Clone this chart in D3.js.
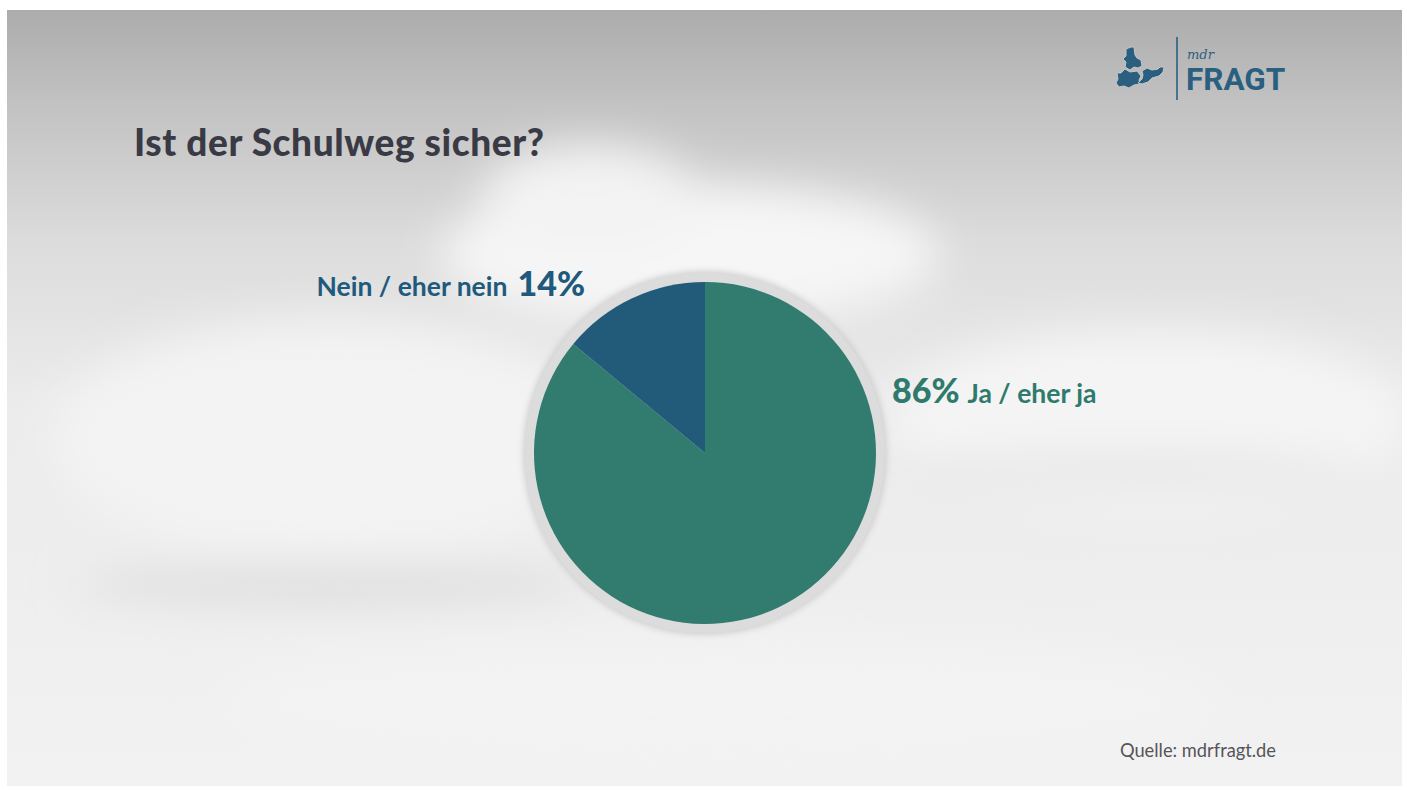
<!DOCTYPE html>
<html>
<head>
<meta charset="utf-8">
<script src="https://cdn.jsdelivr.net/npm/d3@7"></script>
<style>
  html, body { margin: 0; padding: 0; background: #fff; }
  svg { display: block; }
</style>
</head>
<body>
<svg class="canvas" width="1407" height="790"></svg>
<script>
'use strict';

// data
const categories = ['Ja / eher ja', 'Nein / eher nein'];
const values = [86, 14];
const sliceColors = ['#327b6f', '#225b7a'];
const labelColors = ['#2e7a6c', '#1f5a7c'];

const title = 'Ist der Schulweg sicher?';
const source = 'Quelle: mdrfragt.de';

const width = 1407,
  height = 790,
  frame = { left: 7, top: 10, right: 1402, bottom: 786 };

const svg = d3.select('.canvas');
const defs = svg.append('defs');

// background gradient, darker at the top
const bg = defs
  .append('linearGradient')
  .attr('id', 'bg')
  .attr('x1', 0)
  .attr('y1', 0)
  .attr('x2', 0)
  .attr('y2', 1);
[
  [0, '#acacac'],
  [0.12, '#c2c2c2'],
  [0.3, '#dcdcdc'],
  [0.5, '#ebebeb'],
  [1, '#f2f2f2'],
].forEach(([o, c]) => bg.append('stop').attr('offset', o).attr('stop-color', c));

defs
  .append('filter')
  .attr('id', 'blur')
  .attr('x', '-50%')
  .attr('y', '-50%')
  .attr('width', '200%')
  .attr('height', '200%')
  .append('feGaussianBlur')
  .attr('stdDeviation', 22);

defs
  .append('filter')
  .attr('id', 'soft')
  .attr('x', '-20%')
  .attr('y', '-20%')
  .attr('width', '140%')
  .attr('height', '140%')
  .append('feGaussianBlur')
  .attr('stdDeviation', 3);

const clip = defs.append('clipPath').attr('id', 'frame');
clip
  .append('rect')
  .attr('x', frame.left)
  .attr('y', frame.top)
  .attr('width', frame.right - frame.left)
  .attr('height', frame.bottom - frame.top);

const back = svg.append('g').attr('clip-path', 'url(#frame)');
back
  .append('rect')
  .attr('x', frame.left)
  .attr('y', frame.top)
  .attr('width', frame.right - frame.left)
  .attr('height', frame.bottom - frame.top)
  .attr('fill', 'url(#bg)');

// blurry clouds behind everything
const clouds = back.append('g').attr('filter', 'url(#blur)');
clouds.append('ellipse').attr('cx', 690).attr('cy', 255).attr('rx', 250).attr('ry', 70).attr('fill', '#f6f6f6');
clouds.append('ellipse').attr('cx', 590).attr('cy', 200).attr('rx', 110).attr('ry', 55).attr('fill', '#f3f3f3');
clouds.append('ellipse').attr('cx', 330).attr('cy', 440).attr('rx', 280).attr('ry', 120).attr('fill', '#f3f3f3');
clouds.append('ellipse').attr('cx', 1150).attr('cy', 420).attr('rx', 260).attr('ry', 90).attr('fill', '#f4f4f4');
clouds.append('ellipse').attr('cx', 330).attr('cy', 585).attr('rx', 260).attr('ry', 14).attr('fill', '#d8d8d8');
clouds.append('ellipse').attr('cx', 1130).attr('cy', 470).attr('rx', 230).attr('ry', 12).attr('fill', '#e0e0e0');
clouds.append('ellipse').attr('cx', 720).attr('cy', 700).attr('rx', 500).attr('ry', 60).attr('fill', '#f3f3f3');

// pie
const cx = 705,
  cy = 453,
  radius = 171;

const pieData = d3
  .pie()
  .sort(null)
  .value(d => d.value)(categories.map((c, i) => ({ name: c, value: values[i], i })));

const arc = d3.arc().innerRadius(0).outerRadius(radius);

const pieG = svg.append('g').attr('transform', `translate(${cx},${cy})`);

pieG
  .append('circle')
  .attr('r', radius + 11)
  .attr('fill', '#cfcfd0')
  .attr('filter', 'url(#soft)');
pieG.append('circle').attr('r', radius + 9).attr('fill', '#dcdcdd');

pieG
  .selectAll('path.slice')
  .data(pieData)
  .enter()
  .append('path')
  .attr('class', 'slice')
  .attr('d', arc)
  .attr('fill', d => sliceColors[d.data.i]);

// labels
const font = 'Lato, "Open Sans", sans-serif';

const jaLabel = svg
  .append('text')
  .attr('x', 892)
  .attr('y', 403)
  .attr('font-family', font)
  .attr('fill', labelColors[0]);
jaLabel
  .append('tspan')
  .attr('font-size', 34)
  .attr('font-weight', 900)
  .text(`${values[0]}%`);
jaLabel
  .append('tspan')
  .attr('dx', 8)
  .attr('font-size', 26.5)
  .attr('font-weight', 700)
  .text(categories[0]);

const neinLabel = svg
  .append('text')
  .attr('x', 585)
  .attr('y', 296)
  .attr('text-anchor', 'end')
  .attr('font-family', font)
  .attr('fill', labelColors[1]);
neinLabel
  .append('tspan')
  .attr('font-size', 26.5)
  .attr('font-weight', 700)
  .text(categories[1]);
neinLabel
  .append('tspan')
  .attr('dx', 10)
  .attr('font-size', 34)
  .attr('font-weight', 900)
  .text(`${values[1]}%`);

// title
svg
  .append('text')
  .attr('x', 134)
  .attr('y', 156)
  .attr('font-family', font)
  .attr('font-size', 37)
  .attr('font-weight', 900)
  .attr('letter-spacing', 0.6)
  .attr('fill', '#3a3a45')
  .text(title);

// source
svg
  .append('text')
  .attr('x', 1276)
  .attr('y', 757)
  .attr('text-anchor', 'end')
  .attr('font-family', font)
  .attr('font-size', 18.3)
  .attr('fill', '#555558')
  .text(source);

// logo
const logoColor = '#2b5f80';
const logo = svg.append('g');
const blob = d3.line().curve(d3.curveLinearClosed);
const pieces = [
  [[1126, 49], [1131, 47], [1134, 47], [1135, 55], [1137, 58], [1141, 60], [1142, 66], [1138, 68], [1134, 67], [1130, 70], [1125, 67], [1126, 62], [1123, 59], [1126, 56]],
  [[1117, 73], [1121, 73], [1125, 69], [1130, 72], [1137, 71], [1141, 76], [1139, 80], [1140, 84], [1134, 85], [1129, 88], [1124, 86], [1119, 87], [1116, 83], [1118, 79]],
  [[1142, 71], [1147, 68], [1152, 70], [1158, 69], [1160, 67], [1164, 67], [1163, 72], [1159, 76], [1152, 78], [1148, 82], [1142, 84], [1138, 83], [1142, 79], [1143, 75]],
];
logo
  .selectAll('path')
  .data(pieces)
  .enter()
  .append('path')
  .attr('d', blob)
  .attr('fill', logoColor)
  .attr('stroke', '#c6c6c6')
  .attr('stroke-width', 1)
  .attr('stroke-linejoin', 'round');

logo
  .append('line')
  .attr('x1', 1177)
  .attr('x2', 1177)
  .attr('y1', 37)
  .attr('y2', 100)
  .attr('stroke', logoColor)
  .attr('stroke-width', 1.6);

logo
  .append('text')
  .attr('x', 1187)
  .attr('y', 59)
  .attr('font-family', '"DejaVu Serif", serif')
  .attr('font-style', 'italic')
  .attr('font-size', 13)
  .attr('fill', logoColor)
  .text('mdr');

logo
  .append('text')
  .attr('x', 1186)
  .attr('y', 90)
  .attr('font-family', 'Roboto, sans-serif')
  .attr('font-size', 31.5)
  .attr('font-weight', 700)
  .attr('fill', logoColor)
  .text('FRAGT');
</script>
</body>
</html>
